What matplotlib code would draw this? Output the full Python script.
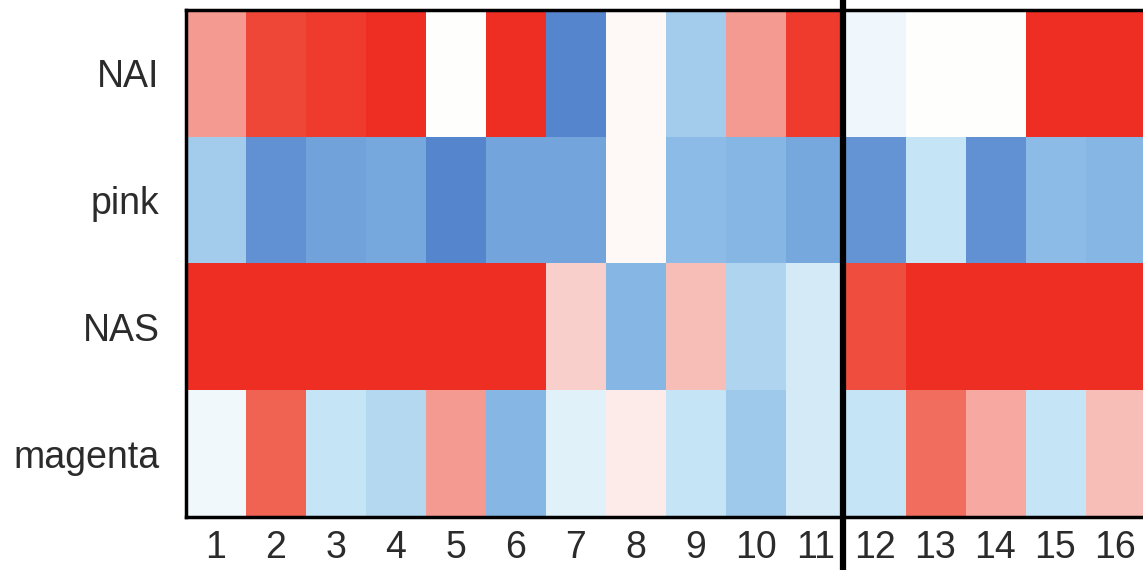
import numpy as np
import matplotlib
matplotlib.use("Agg")
import matplotlib.pyplot as plt
from matplotlib.colors import LinearSegmentedColormap

rows = ["NAI", "pink", "NAS", "magenta"]
cols = [str(i) for i in range(1, 17)]

# values, scaled -1 (blue) .. 1 (red)
nai = [0.45, 0.85, 0.92, 1.0, 0.0, 1.0, -1.0, 0.03, -0.45, 0.45, 0.92, -0.07, 0.0, 0.0, 1.0, 1.0]
pink = [-0.45, -0.9, -0.78, -0.73, -1.0, -0.76, -0.76, 0.03, -0.58, -0.62, -0.73, -0.88, -0.25, -0.9, -0.58, -0.62]
nas = [1.0, 1.0, 1.0, 1.0, 1.0, 1.0, 0.2, -0.62, 0.28, -0.38, -0.18, 0.8, 1.0, 1.0, 1.0, 1.0]
magenta = [-0.06, 0.7, -0.25, -0.35, 0.45, -0.62, -0.13, 0.08, -0.25, -0.47, -0.18, -0.25, 0.65, 0.38, -0.25, 0.28]
split_after = 11  # thick line between column 11 and 12

data = np.array([nai, pink, nas, magenta])

# diverging map blue -> white -> red
nodes = [0.0, 0.2, 0.375, 0.5, 0.625, 0.75, 0.875, 1.0]
colors = ["#5585cc", "#89bae6", "#c5e4f5", "#ffffff", "#f8c3be", "#f59187", "#f05846", "#ee2e22"]
cmap = LinearSegmentedColormap.from_list("bwr_custom", list(zip(nodes, colors)))

plt.rcParams['font.family'] = ['Liberation Sans', 'DejaVu Sans']
fig = plt.figure(figsize=(11.43, 5.70), dpi=100)
ax = fig.add_axes([186 / 1143, 1 - 517 / 570, 1 - 186 / 1143 + 0.002, 507 / 570])

ax.imshow(data, cmap=cmap, vmin=-1, vmax=1, aspect='auto',
          extent=(0, len(cols), len(rows), 0), interpolation='nearest')

ax.set_xticks(np.arange(len(cols)) + 0.5)
ax.set_xticklabels(cols)
ax.set_yticks(np.arange(len(rows)) + 0.5)
ax.set_yticklabels(rows)
ax.tick_params(length=0, labelsize=27, labelcolor='#2b2b2b')
ax.tick_params(axis='y', pad=19)
ax.tick_params(axis='x', pad=9)

for s in ax.spines.values():
    s.set_linewidth(2.5)
    s.set_color('black')

ax.axvline(split_after - 0.05, ymin=-0.11, ymax=1.03, color='black', lw=4.5, clip_on=False)

fig.savefig("out.png", dpi=100)
